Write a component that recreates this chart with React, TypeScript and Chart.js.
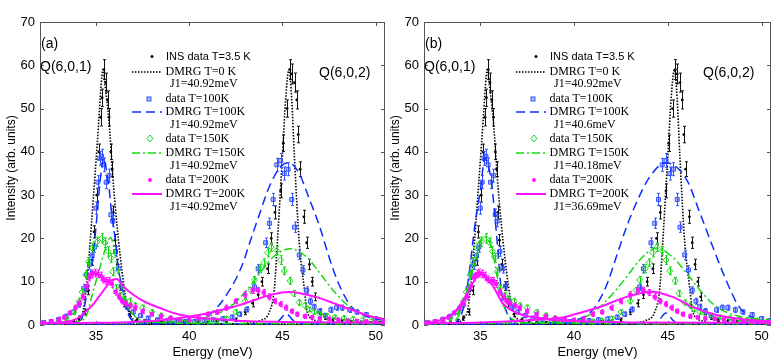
import React, { useEffect, useRef } from 'react';
import { Chart, registerables } from 'chart.js';
Chart.register(...registerables);
Chart.defaults.font.family = "'Liberation Sans', Arial, sans-serif";

// ---------- axes ----------
const X_TICKS = [35, 40, 45, 50];
const Y_TICKS = [0, 10, 20, 30, 40, 50, 60, 70];

// ---------- measured data [E (meV), intensity, error] ----------
const INS_3K5 = [
  [32.2,0.4,0.3],[32.6,0.4,0.3],[33.0,0.5,0.3],[33.4,0.6,0.3],[33.8,0.9,0.4],[34.1,1.6,0.5],[34.4,3,0.7],[34.6,8,1],[34.8,15,1.2],[34.9,21.5,1.4],[35.05,30,1.6],[35.15,40,1.8],[35.25,48,2],[35.33,52.5,2],[35.43,59,2.3],[35.52,56,2.2],[35.62,52,2.1],[35.7,48,2],[35.8,40,1.8],[35.87,36,1.7],[35.93,26,1.5],[36.02,19.6,1.3],[36.15,14,1.2],[36.3,9,1],[36.5,5,0.8],[36.8,2.5,0.6],[37.2,1.2,0.4],[37.6,0.8,0.4],[38.0,0.6,0.3],[38.5,0.5,0.3],[39.0,0.5,0.3],[39.5,0.5,0.3],[40.0,0.5,0.3],[40.5,0.6,0.3],[41.0,0.6,0.3],[41.5,0.7,0.3],[42.0,0.8,0.4],[42.5,1.2,0.4],[43.0,3,0.6],[43.4,5,0.8],[43.7,7,0.9],[43.9,10,1],[44.2,13,1.1],[44.4,20,1.3],[44.6,26,1.5],[44.9,31,1.6],[45.05,42,1.9],[45.25,50,2],[45.4,59,2.3],[45.5,58,2.3],[45.65,56,2.2],[45.77,52,2.1],[45.85,44,1.9],[45.95,36,1.7],[46.15,25,1.5],[46.3,19,1.3],[46.45,14,1.2],[46.6,10,1],[46.75,6.5,0.9],[47.0,3,0.6],[47.3,1.8,0.5],[47.7,1.2,0.4],[48.2,0.9,0.4],[48.7,0.7,0.3],[49.2,0.6,0.3],[49.7,0.5,0.3],[50.2,0.5,0.3]
];
const DATA_100K = [
  [32.2,0.6,0.4],[32.6,0.8,0.4],[33.0,1.3,0.5],[33.4,2,0.5],[33.8,3,0.6],[34.1,4.8,0.7],[34.35,8.5,0.9],[34.5,11.6,1],[34.65,14,1.1],[34.8,16,1.2],[34.92,18,1.2],[35.0,27,1.4],[35.1,33,1.5],[35.2,38.5,1.6],[35.3,39,1.6],[35.42,37,1.6],[35.55,33,1.5],[35.7,34.5,1.5],[35.8,25.5,1.3],[35.9,24,1.3],[36.05,17,1.1],[36.2,13,1],[36.35,9,0.9],[36.5,5.5,0.7],[36.7,4,0.6],[37.0,3,0.5],[37.4,2.2,0.5],[37.8,1.6,0.4],[38.3,1.2,0.4],[38.8,1.0,0.4],[39.3,0.8,0.4],[39.8,0.8,0.4],[40.3,0.8,0.4],[40.8,1.0,0.4],[41.3,1.2,0.4],[41.8,1.4,0.5],[42.3,1.8,0.5],[42.7,2.5,0.5],[43.1,3.6,0.6],[43.5,8.8,0.8],[43.7,13,1],[44.1,19,1.1],[44.3,23.5,1.2],[44.5,29,1.4],[44.7,37,1.5],[44.9,38,1.6],[45.1,35,1.5],[45.3,36,1.5],[45.5,29,1.4],[45.65,22.6,1.2],[45.9,16.2,1.1],[46.1,12.7,1],[46.3,8,0.8],[46.5,5.5,0.7],[46.7,4.2,0.6],[47.0,3.2,0.6],[47.3,2.2,0.5],[47.6,3.5,0.6],[47.9,4,0.6],[48.2,4,0.6],[48.6,3.5,0.6],[49.0,3,0.5],[49.5,2.4,0.5],[50.0,1.5,0.4],[50.4,1.0,0.4]
];
const DATA_150K = [
  [32.2,0.4,0.3],[32.6,0.5,0.3],[33.0,0.8,0.4],[33.4,1.5,0.4],[33.8,3,0.5],[34.1,5.5,0.7],[34.25,7.6,0.8],[34.45,11.6,0.9],[34.6,14.6,1],[34.8,17.8,1.1],[35.05,19.2,1.1],[35.3,20,1.1],[35.5,19,1.1],[35.65,17,1.1],[35.8,15.5,1],[35.9,12.3,0.9],[36.05,8.5,0.8],[36.3,6.8,0.7],[36.5,6,0.7],[36.8,5.5,0.7],[37.1,4.5,0.6],[37.5,4,0.6],[38.0,3,0.5],[38.5,2.2,0.5],[39.0,1.6,0.4],[39.5,1.2,0.4],[40.0,0.9,0.4],[40.5,0.7,0.3],[41.0,0.8,0.4],[41.5,1.0,0.4],[42.0,1.5,0.4],[42.5,3,0.5],[43.0,5.5,0.6],[43.3,8,0.7],[43.5,10.4,0.8],[43.8,13,0.9],[44.0,14.4,0.9],[44.2,16.7,1],[44.4,18,1],[44.7,17.2,1],[44.9,15,1],[45.1,12.5,0.9],[45.4,10.2,0.8],[45.6,7.3,0.7],[45.9,5.2,0.6],[46.2,4.5,0.6],[46.4,3.6,0.5],[46.7,3,0.5],[47.0,2.5,0.5],[47.4,2.1,0.4],[47.8,1.8,0.4],[48.3,1.6,0.4],[48.8,1.4,0.4],[49.3,1.2,0.4],[49.8,1.0,0.3],[50.3,0.8,0.3]
];
const DATA_200K = [
  [32.2,0.5,0.4],[32.6,0.8,0.4],[33.0,1.2,0.4],[33.3,1.8,0.5],[33.6,2.8,0.5],[33.9,4,0.6],[34.1,5,0.6],[34.3,6.5,0.7],[34.5,9,0.8],[34.65,11,0.8],[34.8,11.8,0.9],[34.95,12,0.9],[35.1,11.8,0.9],[35.25,11.3,0.9],[35.4,10.5,0.8],[35.55,10.2,0.8],[35.7,10.2,0.8],[35.85,9.5,0.8],[36.05,7.6,0.7],[36.25,6.5,0.7],[36.4,5.5,0.6],[36.6,5,0.6],[36.85,4.5,0.6],[37.1,4,0.6],[37.5,3.2,0.5],[38.0,2.5,0.5],[38.5,2,0.5],[39.0,1.6,0.4],[39.5,1.3,0.4],[40.0,1.2,0.4],[40.5,1.5,0.4],[41.0,2.5,0.5],[41.5,3,0.5],[42.0,4,0.6],[42.5,5.5,0.6],[43.0,7,0.7],[43.4,8,0.7],[43.7,8,0.7],[44.0,7.5,0.7],[44.3,6.5,0.7],[44.6,5.5,0.6],[44.9,4.8,0.6],[45.2,4,0.6],[45.5,3.2,0.5],[45.8,2.5,0.5],[46.2,2,0.5],[46.6,1.8,0.4],[47.0,1.5,0.4],[47.5,1.4,0.4],[48.0,1.2,0.4],[48.5,1.0,0.4],[49.0,0.9,0.4],[49.5,0.8,0.4],[50.0,0.7,0.3],[50.4,0.6,0.3]
];

// ---------- DMRG curves [E, intensity] ----------
const DMRG_0K_Q1 = [[32,0.2],[33,0.25],[33.7,0.5],[34.1,1.5],[34.35,4],[34.63,16],[34.9,31.7],[35.15,47],[35.27,55],[35.37,59],[35.5,55],[35.7,47],[35.95,31.7],[36.3,16],[36.7,4],[37.1,1],[37.6,0.4],[38.5,0.2],[50.5,0.2]];
const DMRG_0K_Q2 = [[32,0.2],[42,0.25],[43.3,0.5],[43.8,1],[44.3,3],[44.57,8.5],[44.73,19.2],[45.0,39],[45.17,52],[45.35,59],[45.5,52],[45.64,39],[45.9,19.2],[46.17,8.5],[46.33,3],[46.8,1],[47.5,0.4],[48.5,0.2],[50.5,0.2]];

const DMRG_A_100K_Q1 = [[32,0.2],[33.5,0.3],[34.0,0.6],[34.25,1.6],[34.5,7],[34.8,14.6],[35.0,22.5],[35.15,30],[35.3,36],[35.43,38.6],[35.55,36],[35.7,31.7],[35.85,25.5],[36.05,19.2],[36.2,13.2],[36.5,7],[36.75,2.3],[37.2,0.7],[38,0.3],[44.0,0.3],[44.6,0.4],[44.85,1.2],[45.2,2.6],[45.55,1.2],[45.8,0.4],[46.5,0.3],[50.5,0.2]];
const DMRG_A_100K_Q2 = [[32,0.2],[38,0.3],[39.5,0.6],[40.3,1.2],[41.2,2.8],[42.07,7.4],[42.8,13.4],[43.3,19.7],[43.8,26],[44.3,32],[44.9,36.6],[45.35,37.5],[45.9,35],[46.4,29.6],[47.0,22.7],[47.5,15.7],[48.0,9.7],[48.7,4.2],[49.6,1.9],[50.5,1.0]];
const DMRG_A_150K_Q1 = [[32,0.3],[33.5,0.4],[34.1,0.8],[34.5,2.3],[34.8,7],[35.15,12.3],[35.5,17.5],[35.78,20.2],[36.1,14.6],[36.4,8.5],[36.75,4],[37.2,1.6],[38,0.7],[40,0.4],[50.5,0.3]];
const DMRG_A_150K_Q2 = [[32,0.3],[38,0.6],[40.3,1.2],[41.3,2.3],[42.2,4.2],[43.1,8.1],[43.8,12],[44.5,15.7],[45.4,17.6],[46.3,15.7],[47.0,12],[47.7,8.1],[48.6,4.2],[49.5,2.3],[50.5,1.5]];
const DMRG_A_200K_Q1 = [[32,0.4],[33,0.6],[33.7,1.0],[34.1,1.8],[34.5,3.3],[34.8,4.5],[35.15,6.5],[35.5,8.5],[35.8,10.2],[36.1,10.6],[36.5,8.8],[37.0,7],[37.7,5.2],[38.5,3.8],[39.3,2.6],[40.3,1.8],[41.4,1.4],[43,0.9],[45,0.7],[50.5,0.5]];
const DMRG_A_200K_Q2 = [[32,0.4],[35,0.5],[37,0.7],[38.5,1.1],[39.5,1.6],[40.5,2.3],[41.3,3.0],[42.0,3.8],[42.7,4.6],[43.4,5.6],[44.0,6.5],[44.7,7.3],[45.4,7.6],[46.2,7.1],[47.0,6.2],[47.7,5.1],[48.4,4.0],[49.1,2.9],[49.8,1.9],[50.5,1.3]];

const DMRG_B_100K_Q1 = [[32,0.2],[33.5,0.4],[33.9,1.5],[34.2,5.8],[34.45,13.4],[34.7,22.7],[35.0,31],[35.25,38.6],[35.6,32.9],[35.78,25],[35.95,16.7],[36.1,8.8],[36.4,3],[36.8,0.8],[37.5,0.3],[43.5,0.3],[44.3,0.5],[44.55,1.2],[44.9,2.8],[45.25,1.2],[45.5,0.4],[46.5,0.3],[50.5,0.2]];
const DMRG_B_100K_Q2 = [[32,0.2],[38,0.3],[39.3,0.6],[40.0,1.0],[41.0,3.5],[41.7,8.8],[42.25,15.7],[42.8,22.7],[43.3,28],[44.0,34],[44.9,37.5],[46.0,33.6],[46.7,26],[47.4,18],[48.1,10.4],[48.8,4.2],[49.7,1.3],[50.5,0.6]];
const DMRG_B_150K_Q1 = [[32,0.3],[33.5,0.5],[33.8,1.8],[34.1,4.9],[34.45,10.4],[34.8,15.7],[35.15,20.4],[35.6,18],[35.87,12],[36.1,6.5],[36.55,2],[37,0.8],[38,0.4],[50.5,0.3]];
const DMRG_B_150K_Q2 = [[32,0.3],[38,0.6],[40.2,1.2],[41.2,3.5],[42.1,7.4],[42.8,11.1],[43.5,15],[44.38,17.8],[45.25,15.7],[46.0,12],[46.7,8.1],[47.6,4.2],[48.8,2],[49.8,1.4],[50.5,1.1]];
const DMRG_B_200K_Q1 = [[32,0.5],[33,1.3],[33.6,2.8],[34.1,5.8],[34.6,9.7],[35.07,12],[35.7,8.8],[36.2,5],[36.95,2.8],[38.4,1.4],[40,0.9],[43,0.6],[50.5,0.5]];
const DMRG_B_200K_Q2 = [[32,0.4],[35,0.6],[37,0.9],[38.3,1.3],[39.2,1.6],[39.9,2.3],[41.4,4.2],[42.8,6.5],[44.1,7.7],[45.25,6.5],[46.3,4.2],[47.6,2.3],[49.2,1.2],[50.5,0.8]];

const J1_A = ['J1=40.92meV', 'J1=40.92meV', 'J1=40.92meV', 'J1=40.92meV'];
const J1_B = ['J1=40.92meV', 'J1=40.6meV', 'J1=40.18meV', 'J1=36.69meV'];

// ---------- styles ----------
const C_BLACK = '#000000';
const C_BLUE = '#0d2dff';
const C_BLUE_MK = '#3553ff';
const C_GREEN = '#14d814';
const C_MAG = '#ff14ff';
const DASH_0K = [1.5, 1.5];
const DASH_100K = [9, 5];
const DASH_150K = [8, 3, 2, 3];

const SERIF = "'Liberation Serif', 'Times New Roman', serif";
const SANS = "'Liberation Sans', Arial, sans-serif";

function pts(arr: number[][]) { return arr.map(p => ({ x: p[0], y: p[1] })); }

function dataSet(arr: number[][], style: any) {
  return {
    data: pts(arr), errors: arr.map(p => p[2]), errColor: style.err,
    showLine: false, pointRadius: style.r, pointStyle: style.shape,
    pointBackgroundColor: style.fill, pointBorderColor: style.stroke, pointBorderWidth: style.bw,
  };
}
function curveSet(arr: number[][], color: string, dash: number[], width: number) {
  return {
    data: pts(arr), showLine: true, borderColor: color, borderWidth: width, borderDash: dash,
    pointRadius: 0, fill: false, cubicInterpolationMode: 'monotone',
  };
}

const ST_INS = { r: 1.4, shape: 'circle', fill: C_BLACK, stroke: C_BLACK, bw: 0, err: '#111' };
const ST_100 = { r: 2.8, shape: 'rect', fill: 'rgba(110,135,255,0.55)', stroke: C_BLUE_MK, bw: 1, err: C_BLUE_MK };
const ST_150 = { r: 3, shape: 'rectRot', fill: 'rgba(0,0,0,0)', stroke: C_GREEN, bw: 1, err: C_GREEN };
const ST_200 = { r: 2.3, shape: 'rect', fill: C_MAG, stroke: C_MAG, bw: 1, err: C_MAG };

function buildDatasets(c: any) {
  const list: any[] = [
    dataSet(INS_3K5, ST_INS),
    curveSet(DMRG_0K_Q1, C_BLACK, DASH_0K, 1.6),
    curveSet(DMRG_0K_Q2, C_BLACK, DASH_0K, 1.6),
    dataSet(DATA_100K, ST_100),
    curveSet(c.c100[0], C_BLUE, DASH_100K, 1.5),
    curveSet(c.c100[1], C_BLUE, DASH_100K, 1.5),
    dataSet(DATA_150K, ST_150),
    curveSet(c.c150[0], C_GREEN, DASH_150K, 1.5),
    curveSet(c.c150[1], C_GREEN, DASH_150K, 1.5),
    dataSet(DATA_200K, ST_200),
    curveSet(c.c200[0], C_MAG, [], 2),
    curveSet(c.c200[1], C_MAG, [], 2),
  ];
  const n = list.length;
  return list.map((d, i) => ({ ...d, order: n - i }));
}

const PANEL_A = { tag: '(a)', j1: J1_A, c100: [DMRG_A_100K_Q1, DMRG_A_100K_Q2], c150: [DMRG_A_150K_Q1, DMRG_A_150K_Q2], c200: [DMRG_A_200K_Q1, DMRG_A_200K_Q2] };
const PANEL_B = { tag: '(b)', j1: J1_B, c100: [DMRG_B_100K_Q1, DMRG_B_100K_Q2], c150: [DMRG_B_150K_Q1, DMRG_B_150K_Q2], c200: [DMRG_B_200K_Q1, DMRG_B_200K_Q2] };

const errorBarPlugin = {
  id: 'errbars',
  afterDatasetDraw(chart: any, args: any) {
    const ds = chart.data.datasets[args.index];
    if (!ds.errors) return;
    const { ctx, scales } = chart;
    const xs = scales.x, ys = scales.y;
    ctx.save();
    ctx.strokeStyle = ds.errColor;
    ctx.lineWidth = 1;
    ctx.beginPath();
    ds.data.forEach((p: any, i: number) => {
      const e = ds.errors[i];
      const px = Math.round(xs.getPixelForValue(p.x)) + 0.5;
      const y1 = ys.getPixelForValue(p.y - e), y2 = ys.getPixelForValue(p.y + e);
      ctx.moveTo(px, y1); ctx.lineTo(px, y2);
      ctx.moveTo(px - 1.5, y1); ctx.lineTo(px + 1.5, y1);
      ctx.moveTo(px - 1.5, y2); ctx.lineTo(px + 1.5, y2);
    });
    ctx.stroke();
    ctx.restore();
  },
};

function makeDeco(cfg: any) {
  return {
    id: 'deco',
    beforeDatasetsDraw(chart: any) {
      const { ctx, chartArea: a, scales } = chart;
      ctx.save();
      ctx.strokeStyle = '#555';
      ctx.lineWidth = 1;
      ctx.strokeRect(a.left + 0.5, a.top + 0.5, a.right - a.left - 1, a.bottom - a.top - 1);
      ctx.beginPath();
      X_TICKS.forEach(v => {
        const x = Math.round(scales.x.getPixelForValue(v)) + 0.5;
        ctx.moveTo(x, a.bottom); ctx.lineTo(x, a.bottom - 4);
        ctx.moveTo(x, a.top); ctx.lineTo(x, a.top + 4);
      });
      Y_TICKS.forEach(v => {
        const y = Math.round(scales.y.getPixelForValue(v)) + 0.5;
        ctx.moveTo(a.left, y); ctx.lineTo(a.left + 4, y);
        ctx.moveTo(a.right, y); ctx.lineTo(a.right - 4, y);
      });
      ctx.stroke();
      ctx.restore();
    },
    afterDraw(chart: any) {
      const { ctx, chartArea: a } = chart;
      const L = a.left;
      ctx.save();
      ctx.fillStyle = '#000';
      ctx.textBaseline = 'middle';
      // axis titles
      ctx.font = `13px ${SANS}`;
      ctx.textAlign = 'center';
      ctx.fillText('Energy (meV)', (a.left + a.right) / 2, 352);
      ctx.save();
      ctx.translate(12, 168);
      ctx.rotate(-Math.PI / 2);
      ctx.font = `12px ${SANS}`;
      ctx.fillText('Intensity (arb. units)', 0, 0);
      ctx.restore();
      // panel labels
      ctx.textAlign = 'left';
      ctx.font = `14px ${SANS}`;
      ctx.fillText(cfg.tag, L + 1, 44);
      ctx.fillText('Q(6,0,1)', L, 67);
      ctx.fillText('Q(6,0,2)', L + 279, 73);
      // legend
      const lx0 = L + 92, lx1 = L + 122;
      const line = (y: number, color: string, dash: number[], w: number) => {
        ctx.save();
        ctx.strokeStyle = color; ctx.lineWidth = w; ctx.setLineDash(dash);
        ctx.beginPath(); ctx.moveTo(lx0, y); ctx.lineTo(lx1, y); ctx.stroke();
        ctx.restore();
      };
      ctx.beginPath(); ctx.fillStyle = C_BLACK; ctx.arc(L + 112, 56.5, 1.5, 0, Math.PI * 2); ctx.fill();
      ctx.fillStyle = ST_100.fill; ctx.fillRect(L + 107, 97, 4, 4);
      ctx.strokeStyle = C_BLUE_MK; ctx.lineWidth = 1; ctx.strokeRect(L + 107, 97, 4, 4);
      ctx.beginPath(); ctx.strokeStyle = C_GREEN;
      ctx.moveTo(L + 110, 135); ctx.lineTo(L + 113, 138.5); ctx.lineTo(L + 110, 142); ctx.lineTo(L + 107, 138.5); ctx.closePath(); ctx.stroke();
      ctx.beginPath(); ctx.fillStyle = C_MAG; ctx.arc(L + 110, 180, 2, 0, Math.PI * 2); ctx.fill();
      line(72, C_BLACK, DASH_0K, 1.5);
      line(112, C_BLUE, DASH_100K, 1.5);
      line(153, C_GREEN, DASH_150K, 1.5);
      line(194, C_MAG, [], 2);
      ctx.fillStyle = '#000';
      ctx.font = `11px ${SANS}`;
      ctx.fillText('INS data T=3.5 K', L + 126, 56.5);
      ctx.font = `12px ${SERIF}`;
      const tx = L + 125.5, jx = L + 130;
      ctx.fillText('DMRG T=0 K', tx, 71.5);
      ctx.fillText(cfg.j1[0], jx, 84);
      ctx.fillText('data T=100K', tx, 99);
      ctx.fillText('DMRG T=100K', tx, 112);
      ctx.fillText(cfg.j1[1], jx, 125);
      ctx.fillText('data T=150K', tx, 138.5);
      ctx.fillText('DMRG T=150K', tx, 153);
      ctx.fillText(cfg.j1[2], jx, 166);
      ctx.fillText('data T=200K', tx, 180);
      ctx.fillText('DMRG T=200K', tx, 193.5);
      ctx.fillText(cfg.j1[3], jx, 207);
      ctx.restore();
    },
  };
}

function Panel({ cfg, left, width, padRight }: any) {
  const ref = useRef<HTMLCanvasElement>(null);
  useEffect(() => {
    const chart = new Chart(ref.current as HTMLCanvasElement, {
      type: 'line',
      data: { datasets: buildDatasets(cfg) as any },
      options: {
        responsive: false,
        maintainAspectRatio: false,
        animation: false,
        events: [],
        layout: { padding: { left: 0, right: padRight, top: 22, bottom: 0 } },
        plugins: { legend: { display: false }, tooltip: { enabled: false } },
        scales: {
          x: {
            type: 'linear', min: 32, max: 50.5,
            afterBuildTicks: (s: any) => { s.ticks = X_TICKS.map(v => ({ value: v })); },
            afterFit: (s: any) => { s.height = 39; },
            grid: { display: false, drawTicks: false }, border: { display: false },
            ticks: { padding: 4, color: '#000', font: { size: 13 } },
          },
          y: {
            type: 'linear', min: 0, max: 70,
            afterBuildTicks: (s: any) => { s.ticks = Y_TICKS.map(v => ({ value: v })); },
            afterFit: (s: any) => { s.width = 40; },
            grid: { display: false, drawTicks: false }, border: { display: false },
            ticks: { padding: 5, color: '#000', font: { size: 13 } },
          },
        },
      } as any,
      plugins: [errorBarPlugin, makeDeco(cfg)],
    });
    return () => chart.destroy();
  }, []);
  return <canvas ref={ref} width={width} height={364} style={{ position: 'absolute', left, top: 0, width, height: 364 }} />;
}

export default function App() {
  return (
    <div style={{ position: 'fixed', left: 0, top: 0, width: 781, height: 364, background: '#fff', overflow: 'hidden' }}>
      <Panel cfg={PANEL_A} left={0} width={390} padRight={2} />
      <Panel cfg={PANEL_B} left={384} width={397} padRight={10} />
    </div>
  );
}
